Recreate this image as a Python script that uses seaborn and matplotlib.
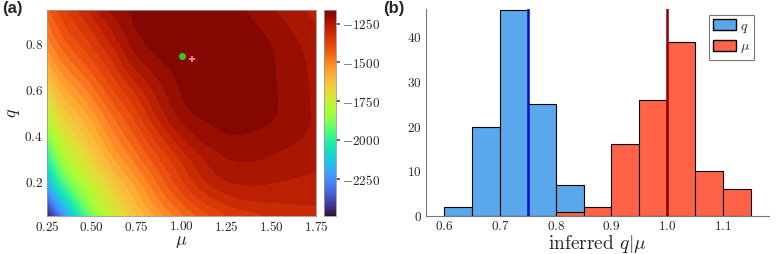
import numpy as np
import matplotlib
matplotlib.use("Agg")
import matplotlib.pyplot as plt
import matplotlib.tri as mtri
from matplotlib.colors import Normalize
from matplotlib.cm import ScalarMappable
from matplotlib.patches import Patch
import seaborn as sns

# (a) log-likelihood surface on a coarse grid
mu_grid = [0.25, 0.35, 0.5, 0.625, 0.75, 1.0, 1.25, 1.5, 1.75]
q_grid = [0.05, 0.1, 0.2, 0.35, 0.5, 0.65, 0.8, 0.95]
loglik = [
    [-2480, -2240, -1910, -1740, -1630, -1470, -1360, -1325, -1310],
    [-2380, -2130, -1840, -1700, -1595, -1435, -1328, -1300, -1294],
    [-2190, -1940, -1745, -1630, -1540, -1368, -1265, -1260, -1272],
    [-1960, -1765, -1630, -1530, -1450, -1292, -1214, -1220, -1245],
    [-1780, -1640, -1540, -1450, -1370, -1215, -1184, -1193, -1236],
    [-1630, -1535, -1445, -1365, -1285, -1188, -1172, -1192, -1238],
    [-1520, -1440, -1360, -1285, -1212, -1170, -1171, -1197, -1250],
    [-1450, -1370, -1285, -1215, -1188, -1172, -1180, -1225, -1275],
]
true_mu, true_q = 1.0, 0.75
mle_mu, mle_q = 1.057, 0.737
cbar_ticks = [-2250, -2000, -1750, -1500, -1250]

# (b) histograms of inferred values
q_edges = [0.60, 0.65, 0.70, 0.75, 0.80, 0.85]
q_counts = [2, 20, 46, 25, 7]
mu_edges = [0.80, 0.85, 0.90, 0.95, 1.00, 1.05, 1.10, 1.15]
mu_counts = [1, 2, 16, 26, 39, 10, 6]

sns.set_theme(style="white")
plt.rcParams.update({
    "font.family": "cmr10",
    "mathtext.fontset": "cm",
    "axes.formatter.use_mathtext": True,
    "axes.unicode_minus": True,
})

fig = plt.figure(figsize=(7.77, 2.54), dpi=100)
ax1 = fig.add_axes([47 / 777, 38 / 254, 269 / 777, 206 / 254])
cax = fig.add_axes([324 / 777, 38 / 254, 12 / 777, 206 / 254])
ax2 = fig.add_axes([426 / 777, 38 / 254, 343 / 777, 207 / 254])

# ---- (a) contour
# smooth the read grid in log(mu), log(q) space, where the steep corner is gentler
M, Q = np.meshgrid(mu_grid, q_grid)
tri_log = mtri.Triangulation(np.log(M.ravel()), np.log(Q.ravel()))
refiner = mtri.UniformTriRefiner(tri_log)
tri_f, z_f = refiner.refine_field(np.asarray(loglik, float).ravel(), subdiv=4)
tri_plot = mtri.Triangulation(np.exp(tri_f.x), np.exp(tri_f.y), tri_f.triangles)
vmin, vmax = -2487, -1163
levels = np.linspace(vmin, vmax, 41)
ax1.tricontourf(tri_plot, z_f, levels=levels, cmap="turbo", extend="both")
ax1.plot(true_mu, true_q, "o", color="#33cc22", ms=4, mec="#33cc22")
ax1.plot(mle_mu, mle_q, "+", color="#ff8a95", ms=5, mew=1.2)
ax1.set_xlim(0.25, 1.75)
ax1.set_ylim(0.05, 0.95)
ax1.set_xticks([0.25, 0.5, 0.75, 1.0, 1.25, 1.5, 1.75])
ax1.set_yticks([0.2, 0.4, 0.6, 0.8])
ax1.set_xlabel(r"$\mu$", fontsize=13, labelpad=0)
ax1.set_ylabel(r"$q$", fontsize=13, labelpad=2)
ax1.tick_params(direction="in", length=3, color="#777777", labelsize=9.5, pad=3)
for s in ax1.spines.values():
    s.set_color("#999999")
    s.set_linewidth(0.6)

sm = ScalarMappable(norm=Normalize(vmin, vmax), cmap="turbo")
cb = fig.colorbar(sm, cax=cax, ticks=cbar_ticks)
cb.outline.set_edgecolor("#999999")
cb.outline.set_linewidth(0.6)
cax.tick_params(direction="out", length=3, color="#555555", labelsize=9.5, pad=1)

# ---- (b) histograms
blue = "#5aa7ec"
red = "#ff6347"
q_mid = np.add(q_edges[:-1], q_edges[1:]) / 2
mu_mid = np.add(mu_edges[:-1], mu_edges[1:]) / 2
sns.histplot(x=q_mid, weights=q_counts, bins=q_edges, color=blue, alpha=1,
             edgecolor="black", linewidth=0.8, ax=ax2)
sns.histplot(x=mu_mid, weights=mu_counts, bins=mu_edges, color=red, alpha=1,
             edgecolor="black", linewidth=0.8, ax=ax2)
ax2.axvline(true_q, color="#0010cc", lw=1.8)
ax2.axvline(true_mu, color="#8b0000", lw=1.8)
ax2.set_xlim(0.567, 1.183)
ax2.set_ylim(0, 46.3)
ax2.set_xticks([0.6, 0.7, 0.8, 0.9, 1.0, 1.1])
ax2.set_yticks([0, 10, 20, 30, 40])
ax2.set_ylabel("")
ax2.set_xlabel(r"inferred $q|\mu$", fontsize=14, labelpad=0)
ax2.tick_params(direction="in", length=2, color="#777777", labelsize=9.5, pad=3)
sns.despine(ax=ax2)
for s in ("left", "bottom"):
    ax2.spines[s].set_color("#777777")
    ax2.spines[s].set_linewidth(0.8)
handles = [Patch(facecolor=blue, edgecolor="black", label=r"$q$"),
           Patch(facecolor=red, edgecolor="black", label=r"$\mu$")]
leg = ax2.legend(handles=handles, loc="upper right", bbox_to_anchor=(0.956, 0.971),
                 fancybox=False, frameon=True, fontsize=10, handlelength=1.65,
                 handleheight=0.85, handletextpad=0.25, borderpad=0.3,
                 labelspacing=0.4, borderaxespad=0)
leg.get_frame().set_edgecolor("#555555")
leg.get_frame().set_linewidth(0.8)

fig.text(2 / 777, 1 - 1 / 254, "(a)", ha="left", va="top", fontsize=12,
         fontweight="bold", family="Liberation Sans")
fig.text(383 / 777, 1 - 1 / 254, "(b)", ha="left", va="top", fontsize=12,
         fontweight="bold", family="Liberation Sans")

fig.savefig("out.png", dpi=100)
